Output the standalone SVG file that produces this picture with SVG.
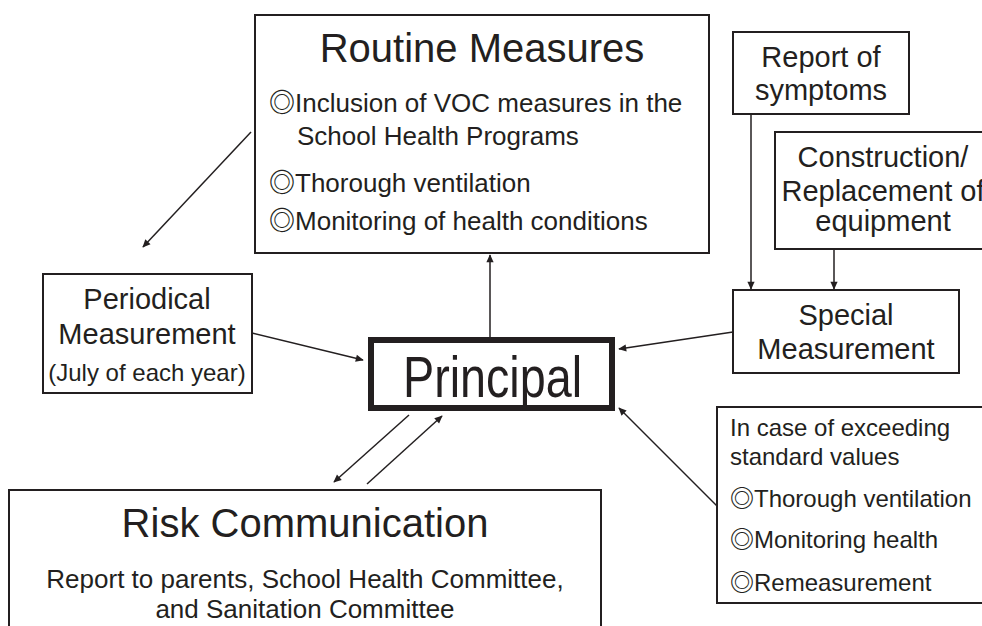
<svg xmlns="http://www.w3.org/2000/svg" width="982" height="626" viewBox="0 0 982 626">
  <style>
    .box { fill: #ffffff; stroke: #231f20; stroke-width: 2; }
    .t { font-family: "Liberation Sans", Arial, "Noto Sans CJK JP", sans-serif; fill: #231f20; }
    .c { text-anchor: middle; }
    .mk { font-family: "Noto Sans CJK JP", sans-serif; font-weight: bold; }
    .edge { stroke: #231f20; stroke-width: 1.5; fill: none; marker-end: url(#arrow); }
  </style>
  <defs>
    <marker id="arrow" viewBox="0 0 10 10" refX="9" refY="5" markerWidth="10" markerHeight="8" markerUnits="userSpaceOnUse" orient="auto">
      <path d="M0,0.5 L10,5 L0,9.5 z" fill="#231f20"/>
    </marker>
  </defs>
  <rect width="982" height="626" fill="#ffffff"/>

  <!-- connectors -->
  <g id="connectors">
    <line class="edge" x1="490" y1="337" x2="490" y2="255"/>
    <line class="edge" x1="251" y1="132" x2="143" y2="247"/>
    <line class="edge" x1="252" y1="333" x2="363" y2="360"/>
    <line class="edge" x1="733" y1="332" x2="619" y2="349"/>
    <line class="edge" x1="717" y1="506" x2="619" y2="408"/>
    <line class="edge" x1="751" y1="114" x2="751" y2="289"/>
    <line class="edge" x1="834" y1="249" x2="834" y2="289"/>
    <line class="edge" x1="409" y1="415" x2="334" y2="482"/>
    <line class="edge" x1="367" y1="484" x2="442" y2="416"/>
  </g>

  <!-- routine measures -->
  <g id="routine">
    <rect class="box" x="255" y="15" width="454" height="238"/>
    <text class="t c" x="482" y="62" font-size="40">Routine Measures</text>
    <text class="t" x="269" y="112" font-size="26"><tspan class="mk">◎</tspan>Inclusion of VOC measures in the</text>
    <text class="t" x="297" y="145" font-size="26">School Health Programs</text>
    <text class="t" x="269" y="192" font-size="26"><tspan class="mk">◎</tspan>Thorough ventilation</text>
    <text class="t" x="269" y="230" font-size="26"><tspan class="mk">◎</tspan>Monitoring of health conditions</text>
  </g>

  <!-- report of symptoms -->
  <g id="symptoms">
    <rect class="box" x="733" y="32" width="176" height="82"/>
    <text class="t c" x="821" y="67" font-size="29">Report of</text>
    <text class="t c" x="821" y="100" font-size="29">symptoms</text>
  </g>

  <!-- construction / replacement (box runs past the right edge) -->
  <g id="construction">
    <rect class="box" x="775" y="132" width="230" height="117"/>
    <text class="t c" x="883" y="167" font-size="29">Construction/</text>
    <text class="t c" x="883" y="201" font-size="29">Replacement of</text>
    <text class="t c" x="883" y="231" font-size="29">equipment</text>
  </g>

  <!-- special measurement -->
  <g id="special">
    <rect class="box" x="733" y="290" width="226" height="83"/>
    <text class="t c" x="846" y="325" font-size="29">Special</text>
    <text class="t c" x="846" y="359" font-size="29">Measurement</text>
  </g>

  <!-- periodical measurement -->
  <g id="periodical">
    <rect class="box" x="43" y="274" width="209" height="119"/>
    <text class="t c" x="147" y="309" font-size="29">Periodical</text>
    <text class="t c" x="147" y="344" font-size="29">Measurement</text>
    <text class="t c" x="147" y="381" font-size="24">(July of each year)</text>
  </g>

  <!-- principal -->
  <g id="principal">
    <rect x="371" y="340" width="241" height="68" fill="#ffffff" stroke="#231f20" stroke-width="6"/>
    <text class="t" x="403" y="397" font-size="57" textLength="179" lengthAdjust="spacingAndGlyphs">Principal</text>
  </g>

  <!-- exceeding standard values -->
  <g id="exceeding">
    <rect class="box" x="717" y="407" width="290" height="196"/>
    <text class="t" x="730" y="436" font-size="24">In case of exceeding</text>
    <text class="t" x="730" y="465" font-size="24">standard values</text>
    <text class="t" x="730" y="507" font-size="24"><tspan class="mk">◎</tspan>Thorough ventilation</text>
    <text class="t" x="730" y="548" font-size="24"><tspan class="mk">◎</tspan>Monitoring health</text>
    <text class="t" x="730" y="591" font-size="24"><tspan class="mk">◎</tspan>Remeasurement</text>
  </g>

  <!-- risk communication -->
  <g id="risk">
    <rect class="box" x="9" y="490" width="592" height="160"/>
    <text class="t c" x="305" y="537" font-size="40">Risk Communication</text>
    <text class="t c" x="305" y="588" font-size="26">Report to parents, School Health Committee,</text>
    <text class="t c" x="305" y="618" font-size="26">and Sanitation Committee</text>
  </g>
</svg>
